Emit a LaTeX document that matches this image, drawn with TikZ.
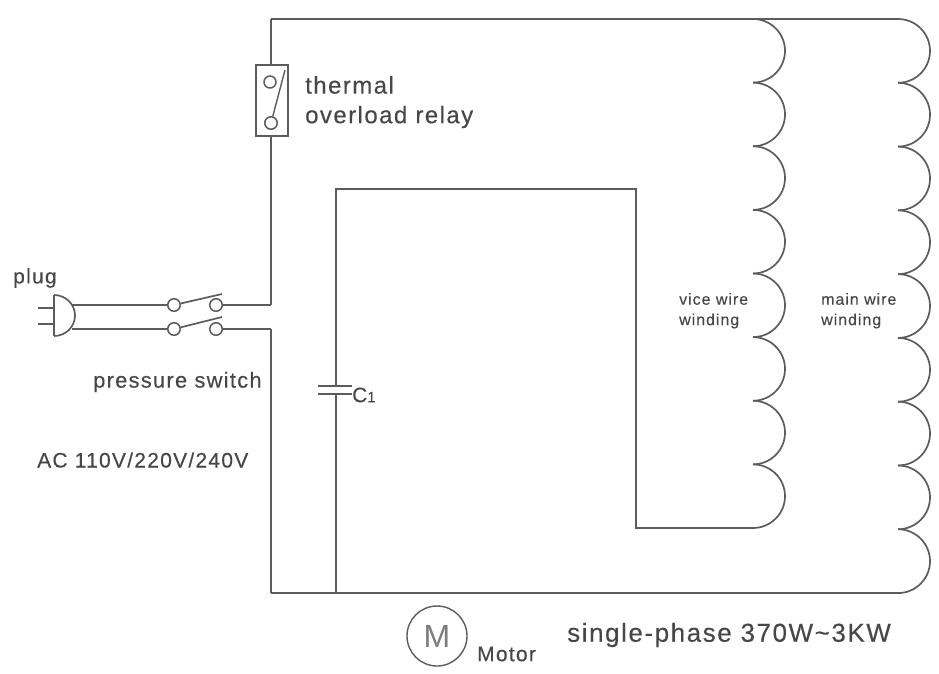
\documentclass[tikz,border=0pt]{standalone}
\usepackage{fontspec}
\setmainfont{Liberation Sans}
\newfontfamily\spaced[LetterSpace=6,FakeBold=0.25]{Liberation Sans}
\definecolor{wire}{gray}{0.36}
\definecolor{ink}{gray}{0.28}
\tikzset{
  wireline/.style={draw=wire, line width=1.7pt},
  contact/.style={circle, draw=wire, line width=1.5pt, minimum size=12.5pt, inner sep=0pt},
  biglabel/.style={text=ink, font=\spaced\fontsize{24}{28}\selectfont, anchor=west, inner sep=0pt},
  midlabel/.style={text=ink, font=\spaced\fontsize{21}{25}\selectfont, anchor=west, inner sep=0pt},
  smalllabel/.style={text=ink, font=\spaced\fontsize{16}{19}\selectfont, anchor=west, inner sep=0pt}
}
\begin{document}
\begin{tikzpicture}[x=1pt,y=-1pt]
  \useasboundingbox (0,0) rectangle (939,673);

  % Corner points of the wiring
  \coordinate (TL) at (271,19);
  \coordinate (VT) at (753,19);
  \coordinate (MT) at (898,19);
  \coordinate (BL) at (271,593);
  \coordinate (MB) at (898,593);
  \coordinate (CT) at (336,189);
  \coordinate (CB) at (336,593);
  \coordinate (RT) at (636,189);
  \coordinate (RB) at (636,528);
  \coordinate (VB) at (753,528);
  \coordinate (UP) at (271,305);
  \coordinate (DN) at (271,329);
  \coordinate (P1) at (72,305);
  \coordinate (P2) at (72,329);

  % Plug
  \draw[wireline] (54,295) -- (54,336);
  \draw[wireline] (54,295) arc[start angle=90,end angle=-90,x radius=21pt,y radius=20.5pt];
  \draw[wireline, line width=1.3pt] (38,308) -- (54,308);
  \draw[wireline, line width=1.3pt] (38,324) -- (54,324);

  % Pressure switch
  \node[contact] (S1) at (174,305) {};
  \node[contact] (S2) at (216,305) {};
  \node[contact] (S3) at (174,329) {};
  \node[contact] (S4) at (216,329) {};
  \draw[wireline] (S1) -- (222,294);
  \draw[wireline] (S3) -- (222,317);
  \draw[wireline] (P1) -- (S1);
  \draw[wireline] (P2) -- (S3);
  \draw[wireline] (S2) -- (UP);
  \draw[wireline] (S4) -- (DN);

  % Thermal overload relay
  \node[draw=wire, line width=1.7pt, minimum width=32pt, minimum height=71pt, inner sep=0pt] (R) at (272,100.5) {};
  \node[contact, minimum size=12pt] (R1) at (270,82) {};
  \node[contact] (R2) at (271,123) {};
  \draw[wireline, line width=1.4pt] (R2) -- (285,70);
  \draw[wireline] (TL) -- (R.north -| TL);
  \draw[wireline] (R.south -| TL) -- (UP);
  \draw[wireline] (DN) -- (BL);

  % Outer wires
  \draw[wireline] (TL) -- (MT);
  \draw[wireline] (BL) -- (MB);

  % Vice wire winding
  \foreach \i in {0,...,7}
    \draw[wireline] (753,19+63.625*\i) arc[start angle=90,end angle=-90,x radius=32pt,y radius=31.8pt];

  % Main wire winding
  \foreach \i in {0,...,8}
    \draw[wireline] (898,19+63.78*\i) arc[start angle=90,end angle=-90,x radius=32pt,y radius=31.9pt];

  % Capacitor branch
  \coordinate (C1a) at (336,386);
  \coordinate (C1b) at (336,394);
  \draw[wireline] (VB) -- (RB) -- (RT) -- (CT) -- (C1a);
  \draw[wireline] (C1b) -- (CB);
  \draw[wireline] (318,386) -- (352,386);
  \draw[wireline] (318,394) -- (352,394);

  % Motor symbol
  \node[circle, draw=wire, line width=1.4pt, minimum size=60pt, inner sep=0pt, text=wire!80, font=\fontsize{32}{36}\selectfont] (M) at (437,636) {M};

  % Labels
  \node[midlabel] (plug) at (13,278) {plug};
  \node[biglabel] (relay1) at (305,85) {thermal};
  \node[biglabel] (relay2) at (305,117) {overload relay};
  \node[midlabel, font=\spaced\fontsize{21.8}{25}\selectfont] (sw) at (93,382) {pressure switch};
  \node[midlabel] (ac) at (37,460) {AC 110V/220V/240V};
  \node[smalllabel] (v1) at (679,299) {vice wire};
  \node[smalllabel] (v2) at (679,321) {winding};
  \node[smalllabel] (m1) at (821,299) {main wire};
  \node[smalllabel] (m2) at (821,321) {winding};
  \node[midlabel] (c1) at (352,395) {C\fontsize{15}{18}\selectfont 1};
  \node[midlabel] (mot) at (477,654) {Motor};
  \node[biglabel, font=\spaced\fontsize{26}{30}\selectfont] (ph) at (567,635) {single-phase 370W\textasciitilde 3KW};
\end{tikzpicture}
\end{document}
